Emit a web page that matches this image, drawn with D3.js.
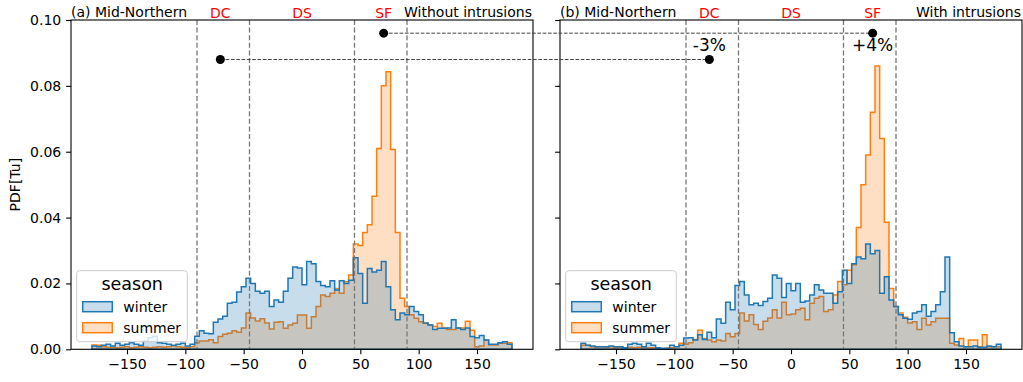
<!DOCTYPE html>
<html>
<head>
<meta charset="utf-8">
<script src="https://cdn.jsdelivr.net/npm/d3@7"></script>
<style>
  body { margin: 0; background: #fff; }
  svg { display: block; }
</style>
</head>
<body>
<div id="chart"></div>
<script>
// bins of 4 degrees from -180 to 180
const binEdges = d3.range(91).map(i => -180 + 4 * i);

const winterA = [0.001,0.0008,0.0012,0.0015,0.001,0.0018,0.0012,0.0015,0.002,0.0015,0.0012,0.0025,0.0035,0.004,0.002,0.0018,0.0015,0.0012,0.0015,0.0018,0.001,0.0015,
  0.004,0.0056,0.0049,0.0047,0.0082,0.0092,0.010,0.014,0.0143,0.0174,0.019,0.0216,0.020,0.0176,0.017,0.0176,0.013,0.015,0.0143,0.0176,0.0216,0.025,0.0247,0.0196,0.0267,0.026,0.0206,
  0.0194,0.019,0.0208,0.018,0.0208,0.020,0.021,0.0278,0.023,0.014,0.0245,0.0235,0.024,0.0267,0.019,0.012,0.009,0.011,0.0105,0.013,0.0115,0.0105,0.008,0.0074,0.006,0.0064,
  0.0064,0.0065,0.009,0.0065,0.006,0.0065,0.0039,0.0035,0.0042,0.0028,0.0015,0.0015,0.002,0.0023,0.0015];

const summerA = [0.0013,0.0012,0.0008,0.0006,0.0006,0.0005,0.0006,0.0008,0.0005,0.0006,0.0008,0.0006,0.0005,0.0006,0.0008,0.0006,0.0008,0.001,0.0008,0.0006,0.0005,0.0008,
  0.002,0.0025,0.0025,0.0029,0.002,0.0039,0.0046,0.0049,0.0056,0.0052,0.0065,0.011,0.0095,0.0086,0.0093,0.008,0.0062,0.0082,0.0084,0.0064,0.0074,0.0079,0.0104,0.0104,0.0064,0.0099,0.013,
  0.0165,0.016,0.017,0.0185,0.017,0.0205,0.0226,
  0.032,0.0315,0.0355,0.0378,0.0465,0.061,0.080,0.0843,0.0607,0.0355,
  0.0155,0.013,0.0105,0.0094,0.0084,0.0079,0.0074,0.0069,0.0079,
  0.0065,0.006,0.006,0.0065,0.0065,0.0085,0.0058,0.0008,0.001,0.0028,0.0013,0.0013,0.0018,0.0018,0.002];

const winterB = [0.0018,0.0012,0.001,0.0008,0.0008,0.0008,0.001,0.0008,0.0008,0.0005,0.0015,0.0018,0.0015,0.0008,0.0018,0.0012,0.0005,0.0003,0.0003,0.0012,0.0008,0.0012,
  0.0034,0.0035,0.0028,0.0044,0.003,0.0052,0.0035,0.0092,0.0079,0.0143,0.012,0.0194,0.0206,0.0165,0.0135,0.014,0.0133,0.0145,0.0155,0.0226,0.0216,0.0157,0.020,0.0178,0.020,0.0143,0.0147,
  0.0165,0.0196,0.018,0.017,0.017,0.014,0.0175,0.024,0.020,0.026,0.028,0.0275,0.032,0.029,0.030,
  0.017,0.022,0.015,0.013,0.0105,0.0094,0.0091,0.011,0.0115,0.0135,0.010,0.0115,0.0135,0.0175,0.028,0.005,
  0.0023,0.001,0.0008,0.0008,0.001,0.0006,0.0006,0.001,0.0008,0.0015];

const summerB = [0.0012,0.0012,0.0008,0.0006,0.0008,0.0006,0.0008,0.0005,0.0005,0.0004,0.0006,0.0005,0.0006,0.0004,0.0005,0.0005,0.0003,0.0002,0.0003,0.0005,0.0008,0.0018,
  0.0015,0.002,0.003,0.0058,0.0033,0.0028,0.0023,0.0028,0.0025,0.0048,0.0038,0.0048,0.011,0.0086,0.0105,0.0075,0.006,0.0085,0.0095,0.012,0.0095,0.0143,0.0105,0.0107,0.012,0.0125,0.009,
  0.014,0.0155,0.016,0.0115,0.012,0.0165,0.0206,0.0196,0.024,0.0257,
  0.037,0.050,0.059,0.072,0.086,0.064,0.0386,
  0.0185,0.013,0.011,0.0097,0.008,0.0084,0.006,0.0094,0.0074,0.0084,0.0094,0.0094,0.0094,0.0018,0.0013,0.0033,0.0008,0.0028,0.0028,0.0008,0.0044,0.0008,0.0008,0.0008];

const xTicks = [-150, -100, -50, 0, 50, 100, 150];
const yTicks = [0, 0.02, 0.04, 0.06, 0.08, 0.10];
const regionLines = [-90, -45, 45, 90];
const regionNames = ['DC', 'DS', 'SF'];
const regionCenters = [-70, 0, 70];
const markerX = [-70, 70];
const markerY = [0.088, 0.096];
const markerLabels = ['-3%', '+4%'];
const seasons = ['winter', 'summer'];

const colors = { winter: '#1f77b4', summer: '#ff7f0e' };
const W = 1023, H = 382;
const plotTop = 20, plotBottom = 349.3;
const font = 'DejaVu Sans, sans-serif';

const panels = [
  { left: 71, right: 533, title: '(a) Mid-Northern', note: 'Without intrusions', winter: winterA, summer: summerA, yLabels: true },
  { left: 560, right: 1022, title: '(b) Mid-Northern', note: 'With intrusions', winter: winterB, summer: summerB, yLabels: false }
];

const svg = d3.select('#chart')
  .append('svg')
  .attr('width', W)
  .attr('height', H)
  .style('font-family', font);

const y = d3.scaleLinear().domain([0, 0.1]).range([plotBottom, plotTop]);

panels.forEach(p => {
  const x = d3.scaleLinear().domain([-198, 198]).range([p.left, p.right]);
  p.x = x;
  const g = svg.append('g');

  // step histograms, summer under winter
  ['summer', 'winter'].forEach(s => {
    const vals = p[s];
    const pts = [[x(binEdges[0]), y(0)]];
    vals.forEach((v, i) => {
      pts.push([x(binEdges[i]), y(v)]);
      pts.push([x(binEdges[i + 1]), y(v)]);
    });
    pts.push([x(binEdges[binEdges.length - 1]), y(0)]);
    g.append('path')
      .attr('d', d3.line()(pts) + 'Z')
      .attr('fill', colors[s])
      .attr('fill-opacity', 0.25)
      .attr('stroke', colors[s])
      .attr('stroke-width', 1.5)
      .attr('stroke-linejoin', 'miter');
  });

  // region boundaries
  g.selectAll('.vline')
    .data(regionLines)
    .join('line')
    .attr('x1', d => x(d)).attr('x2', d => x(d))
    .attr('y1', plotTop).attr('y2', plotBottom)
    .attr('stroke', '#777')
    .attr('stroke-width', 1.3)
    .attr('stroke-dasharray', '5,2.6');

  g.selectAll('.region')
    .data(regionNames)
    .join('text')
    .attr('x', (d, i) => x(regionCenters[i]))
    .attr('y', 17.5)
    .attr('text-anchor', 'middle')
    .attr('font-size', 14)
    .attr('fill', 'red')
    .text(d => d);

  g.append('text')
    .attr('x', p.left)
    .attr('y', 17)
    .attr('font-size', 14)
    .text(p.title);

  g.append('text')
    .attr('x', p.right - 1)
    .attr('y', 17)
    .attr('text-anchor', 'end')
    .attr('font-size', 14)
    .text(p.note);

  // axes
  const xAxis = d3.axisBottom(x).tickValues(xTicks).tickSize(4.9).tickPadding(4.9)
    .tickFormat(d => d < 0 ? '\u2212' + Math.abs(d) : d);
  const yAxis = d3.axisLeft(y).tickValues(yTicks).tickSize(4.9).tickPadding(4.9)
    .tickFormat(p.yLabels ? d3.format('.2f') : '');

  const xg = g.append('g').attr('transform', `translate(0, ${plotBottom})`).call(xAxis);
  const yg = g.append('g').attr('transform', `translate(${p.left}, 0)`).call(yAxis);
  [xg, yg].forEach(a => {
    a.select('.domain').remove();
    a.attr('font-family', font).attr('font-size', 14);
    a.selectAll('line').attr('stroke', '#000').attr('stroke-width', 1.1);
    a.selectAll('text').attr('fill', '#000');
  });

  g.append('rect')
    .attr('x', p.left).attr('y', plotTop)
    .attr('width', p.right - p.left).attr('height', plotBottom - plotTop)
    .attr('fill', 'none')
    .attr('stroke', '#000')
    .attr('stroke-width', 1.1);

  // legend
  const lg = g.append('g').attr('transform', `translate(${p.left + 5.7}, 270.7)`);
  lg.append('rect')
    .attr('width', 110.6).attr('height', 71)
    .attr('rx', 3)
    .attr('fill', '#fff').attr('fill-opacity', 0.8)
    .attr('stroke', '#ccc');
  lg.append('text')
    .attr('x', 55.5).attr('y', 19.5)
    .attr('text-anchor', 'middle')
    .attr('font-size', 17.5)
    .text('season');
  const items = lg.selectAll('.item')
    .data(seasons)
    .join('g')
    .attr('transform', (d, i) => `translate(6, ${31 + i * 21})`);
  items.append('rect')
    .attr('width', 29.6).attr('height', 10)
    .attr('fill', d => colors[d]).attr('fill-opacity', 0.25)
    .attr('stroke', d => colors[d]).attr('stroke-width', 1.5);
  items.append('text')
    .attr('x', 40.6).attr('y', 10)
    .attr('font-size', 14)
    .text(d => d);
});

// y label
svg.append('text')
  .attr('transform', `translate(19.5, ${(plotTop + plotBottom) / 2}) rotate(-90)`)
  .attr('text-anchor', 'middle')
  .attr('font-size', 14)
  .text('PDF[Tu]');

// connectors between panels
const [pa, pb] = panels;
markerX.forEach((mx, i) => {
  svg.append('line')
    .attr('x1', pa.x(mx)).attr('x2', pb.x(mx))
    .attr('y1', y(markerY[i])).attr('y2', y(markerY[i]))
    .attr('stroke', '#444')
    .attr('stroke-width', 1)
    .attr('stroke-dasharray', '3.7,1.6');
  [pa, pb].forEach(p => {
    svg.append('circle')
      .attr('cx', p.x(mx)).attr('cy', y(markerY[i]))
      .attr('r', 4.5)
      .attr('fill', '#000');
  });
  svg.append('text')
    .attr('x', pb.x(mx)).attr('y', y(0.0905))
    .attr('text-anchor', 'middle')
    .attr('font-size', 17)
    .text(markerLabels[i]);
});
</script>
</body>
</html>
